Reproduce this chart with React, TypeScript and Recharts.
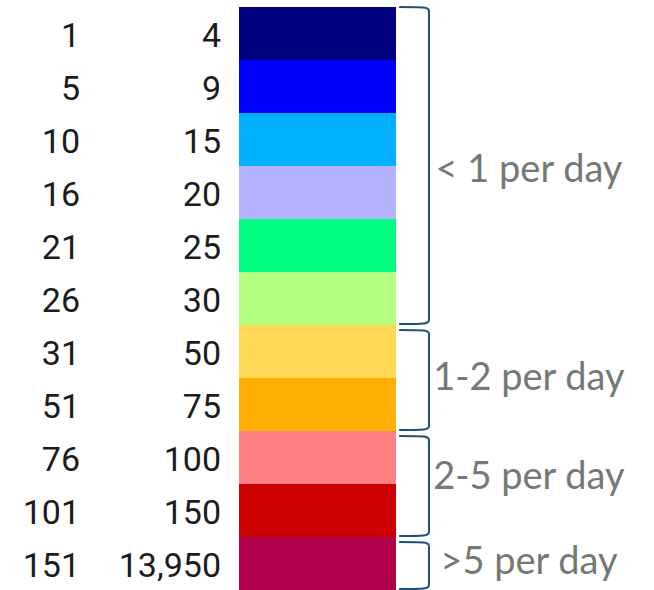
import React from "react";
import { BarChart, Bar, XAxis, YAxis, Cell, ReferenceArea } from "recharts";

const lows = [1, 5, 10, 16, 21, 26, 31, 51, 76, 101, 151];
const highs = [4, 9, 15, 20, 25, 30, 50, 75, 100, 150, 13950];
const colors = [
  "#000080", "#0000FF", "#00B0FF", "#B3B3FF", "#00FF80", "#B3FF80",
  "#FFD955", "#FFB000", "#FF8080", "#CC0000", "#B0004A",
];
const groupLabels = ["< 1 per day", "1-2 per day", "2-5 per day", ">5 per day"];
const groupFrom = [4, 50, 100, 13950];
const groupTo = [30, 75, 150, 13950];

const labelNudge = [2, -2, -9, -3];
const braceTopInset = [0, 5, 5, 5];

const data = highs.map((h, i) => ({ hi: h, lo: lows[i], v: 1 }));

const fmt = (n: number) => n.toLocaleString("en-US");

const Tick = (props: any) => {
  const { x, y, payload, index } = props;
  const lo = lows[index];
  return (
    <g>
      <text x={x - 159} y={y} dy={13} textAnchor="end" fontFamily="Roboto" fontSize={34} fill="#1c1c1c">
        {fmt(lo)}
      </text>
      <text x={x - 18} y={y} dy={13} textAnchor="end" fontFamily="Roboto" fontSize={34} fill="#1c1c1c">
        {fmt(Number(payload.value))}
      </text>
    </g>
  );
};

const makeBrace = (gi: number) => (props: any) => {
  const { x, y, width, height } = props;
  const top = y + braceTopInset[gi];
  const bottom = y + height - 1;
  const x0 = x;
  const x1 = x + width;
  const r = 4;
  const d = `M ${x0} ${top} C ${x0 + width * 0.85} ${top}, ${x1} ${top}, ${x1} ${top + r} L ${x1} ${bottom - r} C ${x1} ${bottom}, ${x0 + width * 0.85} ${bottom}, ${x0} ${bottom}`;
  const cy = (y + y + height) / 2 + labelNudge[gi];
  return (
    <g>
      <path d={d} fill="none" stroke="#1F4E79" strokeWidth={2} />
      <text x={x1 + 100} y={cy} dy={13.5} textAnchor="middle" fontFamily="Lato" fontSize={38} fill="#737a73">
        {groupLabels[gi]}
      </text>
    </g>
  );
};

export default function App() {
  return (
    <div style={{ position: "absolute", left: 0, top: 0, background: "#fff" }}>
      <BarChart
        width={654}
        height={590}
        data={data}
        layout="vertical"
        barCategoryGap={0}
        margin={{ top: 7, right: 22.5, bottom: 0, left: 0 }}
      >
        <XAxis type="number" hide domain={[0, 2.5]} allowDataOverflow />
        <YAxis
          type="category"
          dataKey="hi"
          width={239}
          axisLine={false}
          tickLine={false}
          tickSize={0}
          tickMargin={0}
          interval={0}
          tick={<Tick />}
        />
        <Bar dataKey="v" isAnimationActive={false}>
          {data.map((d, i) => (
            <Cell key={i} fill={colors[i]} />
          ))}
        </Bar>
        {groupLabels.map((g, gi) => (
          <ReferenceArea
            key={g}
            x1={1.02}
            x2={1.21}
            y1={groupFrom[gi]}
            y2={groupTo[gi]}
            ifOverflow="visible"
            shape={makeBrace(gi)}
          />
        ))}
      </BarChart>
    </div>
  );
}
